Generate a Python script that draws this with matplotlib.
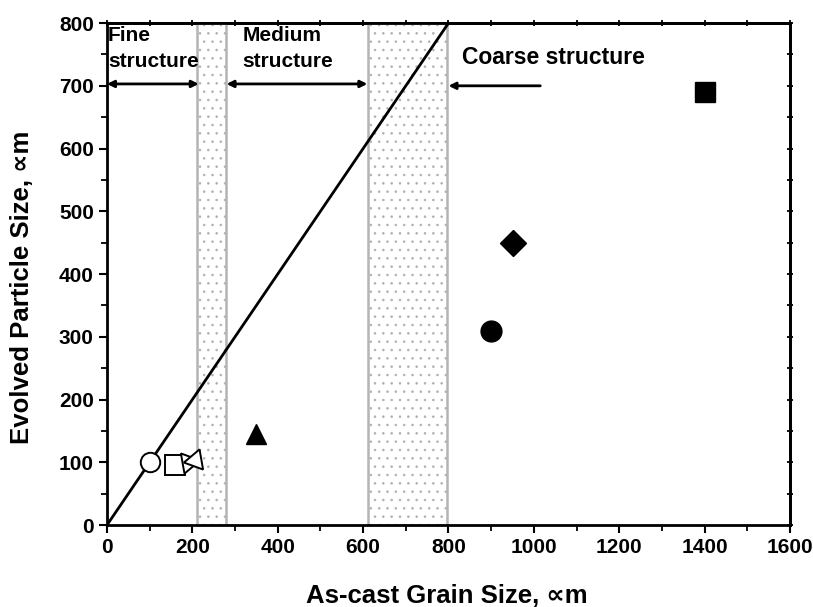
import numpy as np
import matplotlib.pyplot as plt

plt.rcParams['font.family'] = ['Liberation Sans', 'DejaVu Sans']
plt.rcParams['font.weight'] = 'bold'
plt.rcParams['hatch.linewidth'] = 0.6

# measured points: (as-cast grain size, evolved particle size)
open_x = [100, 160, 190, 207]
open_y = [100, 95, 100, 104]
open_mk = ['o', 's', (3, 0, 40), (3, 0, -20)]
filled_x = [350, 900, 950, 1400]
filled_y = [145, 310, 450, 690]
filled_mk = ['^', 'o', 'D', 's']

# structure regions (transition bands)
bands = [(212, 278), (612, 797)]
fine_lim = [0, 215]
medium_lim = [280, 610]
coarse_arrow = [1015, 800]

fig, ax = plt.subplots(figsize=(8.13, 6.07), dpi=100)
fig.subplots_adjust(left=0.1316, right=0.9717, top=0.962, bottom=0.135)

for b0, b1 in bands:
  ax.axvspan(b0, b1, facecolor='white', edgecolor='#b0b0b0', hatch='..', linewidth=0, zorder=1)
  ax.axvspan(b0, b1, facecolor='none', edgecolor='#b4b4b4', linewidth=1.8, zorder=1)

ax.plot([0, 800], [0, 800], 'k-', lw=2, zorder=2)

for x, y, m in zip(open_x, open_y, open_mk):
  ms = 14 if m in ('o', 's') else 17
  ax.plot(x, y, marker=m, ms=ms, mfc='white', mec='k', mew=1.4, ls='none', zorder=3)
for x, y, m in zip(filled_x, filled_y, filled_mk):
  ms = 13 if m == 'D' else 15
  ax.plot(x, y, marker=m, ms=ms, mfc='k', mec='k', ls='none', zorder=3)

arr = dict(arrowstyle='<|-|>', color='k', lw=2, mutation_scale=10, shrinkA=0, shrinkB=0)
ax.annotate('', xy=(fine_lim[0], 703), xytext=(fine_lim[1], 703), arrowprops=arr)
ax.annotate('', xy=(medium_lim[0], 703), xytext=(medium_lim[1], 703), arrowprops=arr)
ax.annotate('', xy=(coarse_arrow[1], 700), xytext=(coarse_arrow[0], 700),
            arrowprops=dict(arrowstyle='-|>', color='k', lw=2, mutation_scale=10, shrinkA=0, shrinkB=0))

ax.text(2, 795, 'Fine\nstructure', fontsize=15, va='top', ha='left', linespacing=1.45)
ax.text(318, 795, 'Medium\nstructure', fontsize=15, va='top', ha='left', linespacing=1.45)
ax.text(832, 745, 'Coarse structure', fontsize=16.5, va='center', ha='left')

ax.set_xlim(0, 1600)
ax.set_ylim(0, 800)
ax.set_xticks(np.arange(0, 1601, 200))
ax.set_xticks(np.arange(0, 1601, 100), minor=True)
ax.set_yticks(np.arange(0, 801, 100))
ax.set_yticks(np.arange(0, 801, 50), minor=True)
ax.tick_params(which='major', direction='out', length=6, width=1.5, labelsize=15)
ax.tick_params(which='minor', direction='out', length=4, width=1.3)
for lab in ax.get_xticklabels() + ax.get_yticklabels():
  lab.set_fontweight('bold')
for s in ax.spines.values():
  s.set_linewidth(2)

# small crossing ticks on the top and right frame
top = ax.secondary_xaxis('top')
top.set_xticks(np.arange(0, 1601, 200))
top.set_xticks(np.arange(0, 1601, 100), minor=True)
top.tick_params(which='both', direction='inout', length=4, width=1.3, labeltop=False)
right = ax.secondary_yaxis('right')
right.set_yticks(np.arange(0, 801, 100))
right.set_yticks(np.arange(0, 801, 50), minor=True)
right.tick_params(which='both', direction='inout', length=4, width=1.3, labelright=False)
top.spines['top'].set_linewidth(2)
right.spines['right'].set_linewidth(2)

ax.set_xlabel('As-cast Grain Size, ∝m', fontsize=18.5, fontweight='bold', va='center')
ax.set_ylabel('Evolved Particle Size, ∝m', fontsize=18.5, fontweight='bold', va='center')
ax.xaxis.set_label_coords(0.498, -0.141)
ax.yaxis.set_label_coords(-0.124, 0.474)

plt.savefig('out.png', dpi=100)
